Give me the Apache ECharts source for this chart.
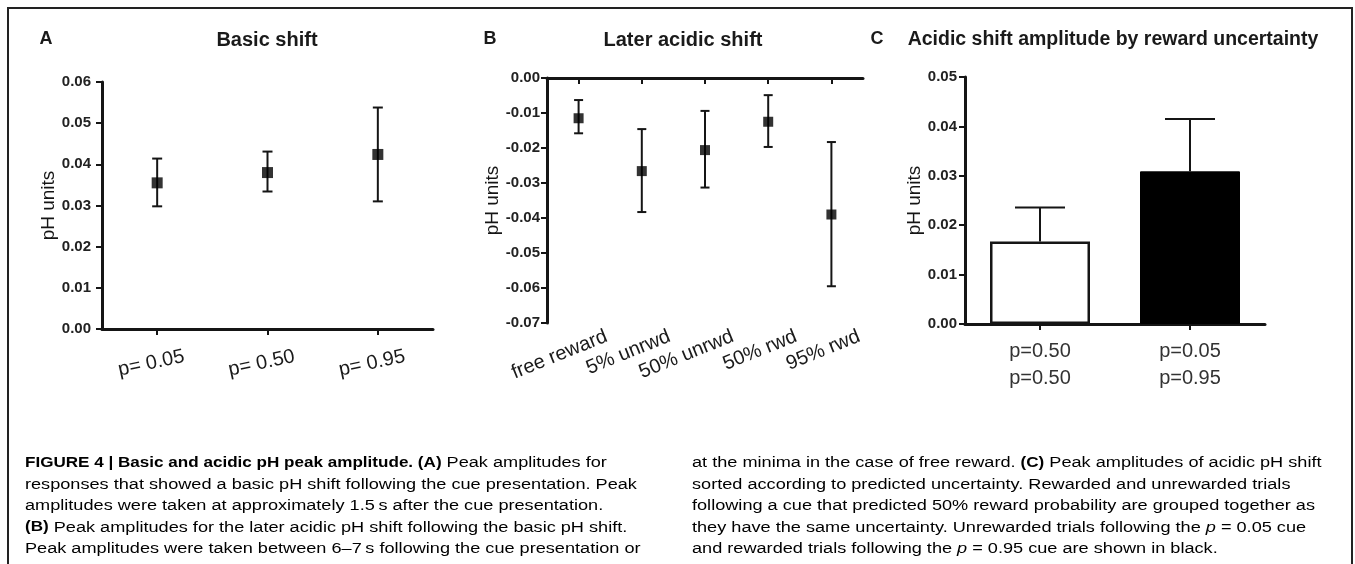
<!DOCTYPE html>
<html>
<head>
<meta charset="utf-8">
<title>Figure 4</title>
<script src="https://cdn.jsdelivr.net/npm/echarts@6/dist/echarts.min.js"></script>
<style>
  html, body { margin: 0; padding: 0; background: #fff; }
  #main { width: 1355px; height: 564px; }
</style>
</head>
<body>
<div id="main"></div>
<script>
// A: basic shift (mean with error bar)
const aCats = ['p= 0.05', 'p= 0.50', 'p= 0.95']
const aMean = [0.0355, 0.038, 0.0424]
const aLow = [0.0298, 0.0334, 0.031]
const aHigh = [0.0414, 0.0431, 0.0538]

// B: later acidic shift
const bCats = ['free reward', '5% unrwd', '50% unrwd', '50% rwd', '95% rwd']
const bMean = [-0.0115, -0.0266, -0.0206, -0.0125, -0.039]
const bLow = [-0.0158, -0.0383, -0.0313, -0.0197, -0.0595]
const bHigh = [-0.0063, -0.0146, -0.0094, -0.0049, -0.0183]

// C: acidic shift amplitude by reward uncertainty (bar + upper error)
const cCats = ['p=0.50\np=0.50', 'p=0.05\np=0.95']
const cMean = [0.0167, 0.0309]
const cHigh = [0.0236, 0.0415]

// y axis ranges / ticks
const aTicks = { min: 0, max: 0.06, step: 0.01 }
const bTicks = { min: -0.07, max: 0, step: 0.01 }
const cTicks = { min: 0, max: 0.05, step: 0.01 }

const FONT = '"Liberation Sans", Arial, Helvetica, sans-serif'
const INK = '#151515'

const myChart = echarts.init(document.getElementById('main'), null, { renderer: 'canvas' })

// y 轴公共配置
const yAxisOf = (gridIndex, t, nameGap, labelMargin) => ({
  type: 'value',
  gridIndex,
  min: t.min,
  max: t.max,
  interval: t.step,
  name: 'pH units',
  nameLocation: 'middle',
  nameRotate: 90,
  nameGap,
  nameTextStyle: { fontFamily: FONT, fontSize: 19, color: INK },
  axisLine: { show: true, lineStyle: { color: INK, width: 3 } },
  axisTick: { show: true, length: 6, lineStyle: { color: INK, width: 2 } },
  axisLabel: {
    margin: labelMargin,
    fontFamily: FONT,
    fontSize: 15,
    fontWeight: 'bold',
    color: '#222',
    formatter: v => v.toFixed(2)
  },
  splitLine: { show: false }
})

const xAxisOf = (gridIndex, data, label) => ({
  type: 'category',
  gridIndex,
  data,
  boundaryGap: true,
  axisLine: { show: true, lineStyle: { color: INK, width: 3 } },
  axisTick: { show: true, alignWithLabel: true, length: 6, lineStyle: { color: INK, width: 2 } },
  axisLabel: Object.assign({ interval: 0, fontFamily: FONT, color: '#1a1a1a' }, label),
  splitLine: { show: false }
})

// 误差线 (custom series)
const errorBar = (xi, yi, rows, capWidth, lowerCap) => ({
  type: 'custom',
  xAxisIndex: xi,
  yAxisIndex: yi,
  z: 3,
  silent: true,
  data: rows,
  renderItem(params, api) {
    const i = api.value(0)
    const lo = api.coord([i, api.value(1)])
    const hi = api.coord([i, api.value(2)])
    const half = capWidth / 2
    const style = { stroke: INK, lineWidth: 2 }
    const children = [
      { type: 'line', shape: { x1: lo[0], y1: lo[1], x2: hi[0], y2: hi[1] }, style },
      { type: 'line', shape: { x1: hi[0] - half, y1: hi[1], x2: hi[0] + half, y2: hi[1] }, style }
    ]
    if (lowerCap) {
      children.push({ type: 'line', shape: { x1: lo[0] - half, y1: lo[1], x2: lo[0] + half, y2: lo[1] }, style })
    }
    return { type: 'group', children }
  }
})

const txt = (x, y, text, font, align) => ({
  type: 'text',
  x,
  y,
  style: { text, font, fill: '#1a1a1a', align: align || 'center', verticalAlign: 'middle' }
})

// caption: light text, stretched a little sideways like the journal face
const CAP = 15.5
const CAP_SX = 1.17
const capRich = {
  n: { fontFamily: FONT, fontSize: CAP, color: '#3c3c3c', lineHeight: 21.5 },
  b: { fontFamily: FONT, fontSize: 14.6, fontWeight: 'bold', color: '#222', lineHeight: 21.5 },
  i: { fontFamily: FONT, fontSize: CAP, fontStyle: 'italic', color: '#3c3c3c', lineHeight: 21.5 }
}
const capLeft = [
  '{b|FIGURE 4 | Basic and acidic pH peak amplitude. (A)}{n| Peak amplitudes for}',
  '{n|responses that showed a basic pH shift following the cue presentation. Peak}',
  '{n|amplitudes were taken at approximately 1.5\u2009s after the cue presentation.}',
  '{b|(B)}{n| Peak amplitudes for the later acidic pH shift following the basic pH shift.}',
  '{n|Peak amplitudes were taken between 6\u20137\u2009s following the cue presentation or}'
].join('\n')
const capRight = [
  '{n|at the minima in the case of free reward. }{b|(C)}{n| Peak amplitudes of acidic pH shift}',
  '{n|sorted according to predicted uncertainty. Rewarded and unrewarded trials}',
  '{n|following a cue that predicted 50% reward probability are grouped together as}',
  '{n|they have the same uncertainty. Unrewarded trials following the }{i|p}{n| = 0.05 cue}',
  '{n|and rewarded trials following the }{i|p}{n| = 0.95 cue are shown in black.}'
].join('\n')

const option = {
  backgroundColor: '#fff',
  animation: false,
  grid: [
    { left: 102, top: 82, width: 331, height: 247, outerBoundsMode: 'none' },
    { left: 547, top: 78, width: 316, height: 245, outerBoundsMode: 'none' },
    { left: 965, top: 77, width: 300, height: 247, outerBoundsMode: 'none' }
  ],
  xAxis: [
    xAxisOf(0, aCats, { rotate: 12, align: 'center', margin: 33, fontSize: 20, padding: [0, 12, 0, 0] }),
    xAxisOf(1, bCats, { rotate: 22, margin: 24, fontSize: 20, padding: [0, -30, 0, 0] }),
    xAxisOf(2, cCats, { margin: 14, fontSize: 20, lineHeight: 27, color: '#333' })
  ],
  yAxis: [
    yAxisOf(0, aTicks, 44, 11),
    yAxisOf(1, bTicks, 45, 7),
    yAxisOf(2, cTicks, 40, 8)
  ],
  series: [
    errorBar(0, 0, aCats.map((c, i) => [i, aLow[i], aHigh[i]]), 10, true),
    {
      type: 'scatter', xAxisIndex: 0, yAxisIndex: 0, z: 4,
      symbol: 'rect', symbolSize: 11,
      itemStyle: { color: '#000' },
      data: aMean
    },
    errorBar(1, 1, bCats.map((c, i) => [i, bLow[i], bHigh[i]]), 9, true),
    {
      type: 'scatter', xAxisIndex: 1, yAxisIndex: 1, z: 4,
      symbol: 'rect', symbolSize: 10,
      itemStyle: { color: '#000' },
      data: bMean
    },
    errorBar(2, 2, cCats.map((c, i) => [i, cMean[i], cHigh[i]]), 50, false),
    {
      type: 'bar', xAxisIndex: 2, yAxisIndex: 2, z: 4,
      barWidth: 100,
      data: cMean.map((v, i) => ({
        value: v,
        itemStyle: i === 0
          ? { color: '#fff', borderColor: INK, borderWidth: 2.5 }
          : { color: '#000', borderColor: '#000', borderWidth: 1 }
      }))
    }
  ],
  graphic: [
    // 外框
    {
      type: 'polyline',
      shape: { points: [[8, 564], [8, 8], [1352, 8], [1352, 564]] },
      style: { stroke: '#222', lineWidth: 2, fill: null }
    },
    txt(46, 39, 'A', 'bold 18px ' + FONT),
    txt(267, 40, 'Basic shift', 'bold 20px ' + FONT),
    txt(490, 39, 'B', 'bold 18px ' + FONT),
    txt(683, 40, 'Later acidic shift', 'bold 20px ' + FONT),
    txt(877, 39, 'C', 'bold 18px ' + FONT),
    txt(1113, 40, 'Acidic shift amplitude by reward uncertainty', 'bold 19.5px ' + FONT),
    {
      type: 'text', x: 25, y: 452, scaleX: CAP_SX,
      style: { text: capLeft, rich: capRich, align: 'left', verticalAlign: 'top' }
    },
    {
      type: 'text', x: 692, y: 452, scaleX: CAP_SX,
      style: { text: capRight, rich: capRich, align: 'left', verticalAlign: 'top' }
    }
  ]
}

myChart.setOption(option)
window.addEventListener('resize', () => {
  myChart.resize()
})
</script>
</body>
</html>
